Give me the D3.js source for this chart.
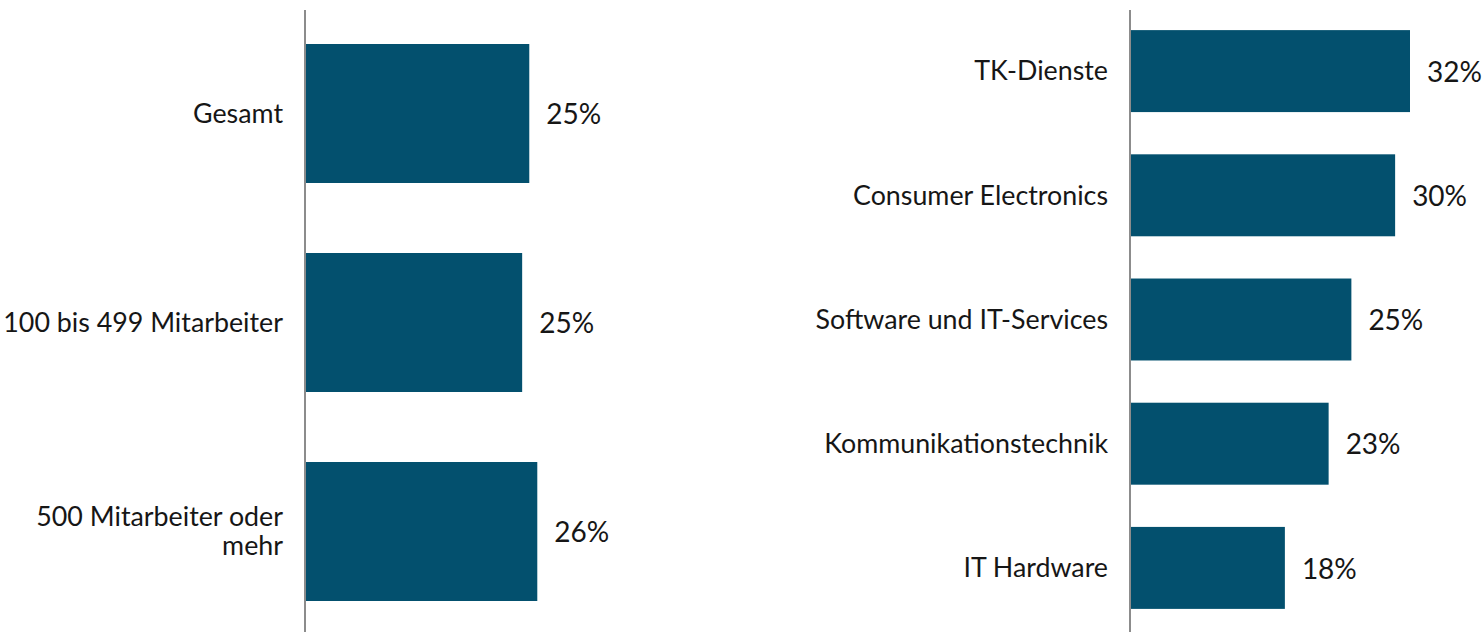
<!DOCTYPE html>
<html>
<head>
<meta charset="utf-8">
<script src="https://cdn.jsdelivr.net/npm/d3@7"></script>
<style>
  html, body { margin: 0; padding: 0; background: #ffffff; }
  svg { display: block; }
  text { font-family: Lato, "Open Sans", sans-serif; fill: #161616; }
</style>
</head>
<body>
<svg id="chart" width="1484" height="632"></svg>
<script>
// Left panel: company size
const leftCategories = ["Gesamt", "100 bis 499 Mitarbeiter", "500 Mitarbeiter oder mehr"];
const leftValues = [25.2, 24.4, 26.1];
const leftLabels = ["25%", "25%", "26%"];

// Right panel: industry segments
const rightCategories = ["TK-Dienste", "Consumer Electronics", "Software und IT-Services", "Kommunikationstechnik", "IT Hardware"];
const rightValues = [32.0, 30.3, 25.3, 22.7, 17.7];
const rightLabels = ["32%", "30%", "25%", "23%", "18%"];

const svg = d3.select("#chart");
const BAR = "#03506e";
const AXIS = "#8c8c8c";
const FS_CAT = 26.8;
const FS_VAL = 28;

function panel(cfg) {
  const g = svg.append("g");
  const x = d3.scaleLinear().domain([0, cfg.maxVal]).range([cfg.x0, cfg.x0 + cfg.maxPx]);
  const y = d3.scaleBand().domain(cfg.categories).range(cfg.yRange).paddingInner(cfg.pad).paddingOuter(cfg.pad / 2);
  const data = cfg.categories.map((c, i) => ({ c, v: cfg.values[i], l: cfg.labels[i] }));

  g.selectAll("rect").data(data).join("rect")
    .attr("x", x(0))
    .attr("y", d => y(d.c))
    .attr("width", d => x(d.v) - x(0))
    .attr("height", y.bandwidth())
    .attr("fill", BAR);

  const axis = d3.axisLeft(y).tickSize(0).tickFormat("");
  const ag = g.append("g").attr("transform", `translate(${x(0)},0)`).call(axis);
  ag.select(".domain").remove();
  g.append("line")
    .attr("x1", x(0)).attr("x2", x(0))
    .attr("y1", cfg.lineY[0]).attr("y2", cfg.lineY[1])
    .attr("stroke", AXIS).attr("stroke-width", 2);

  g.selectAll("text.cat").data(data).join("text")
    .attr("class", "cat")
    .attr("text-anchor", "end")
    .attr("font-size", FS_CAT)
    .each(function(d) {
      const lines = cfg.wrap[d.c] || [d.c];
      const t = d3.select(this);
      const cy = y(d.c) + y.bandwidth() / 2;
      const lh = 29;
      const start = cy - (lines.length - 1) * lh / 2;
      lines.forEach((ln, i) => {
        t.append("tspan")
          .attr("x", x(0) - 22)
          .attr("y", start + i * lh)
          .attr("dy", "0.35em")
          .text(ln);
      });
    });

  g.selectAll("text.val").data(data).join("text")
    .attr("class", "val")
    .attr("x", d => x(d.v) + 17)
    .attr("y", d => y(d.c) + y.bandwidth() / 2)
    .attr("dy", "0.38em")
    .attr("font-size", FS_VAL)
    .text(d => d.l);
}

panel({
  categories: leftCategories, values: leftValues, labels: leftLabels,
  x0: 305, maxVal: 30, maxPx: 267,
  yRange: [9, 636], pad: 0.335, lineY: [10, 632],
  wrap: { "500 Mitarbeiter oder mehr": ["500 Mitarbeiter oder", "mehr"] }
});

panel({
  categories: rightCategories, values: rightValues, labels: rightLabels,
  x0: 1130, maxVal: 32, maxPx: 280,
  yRange: [9, 630], pad: 0.34, lineY: [10, 632],
  wrap: {}
});
</script>
</body>
</html>
